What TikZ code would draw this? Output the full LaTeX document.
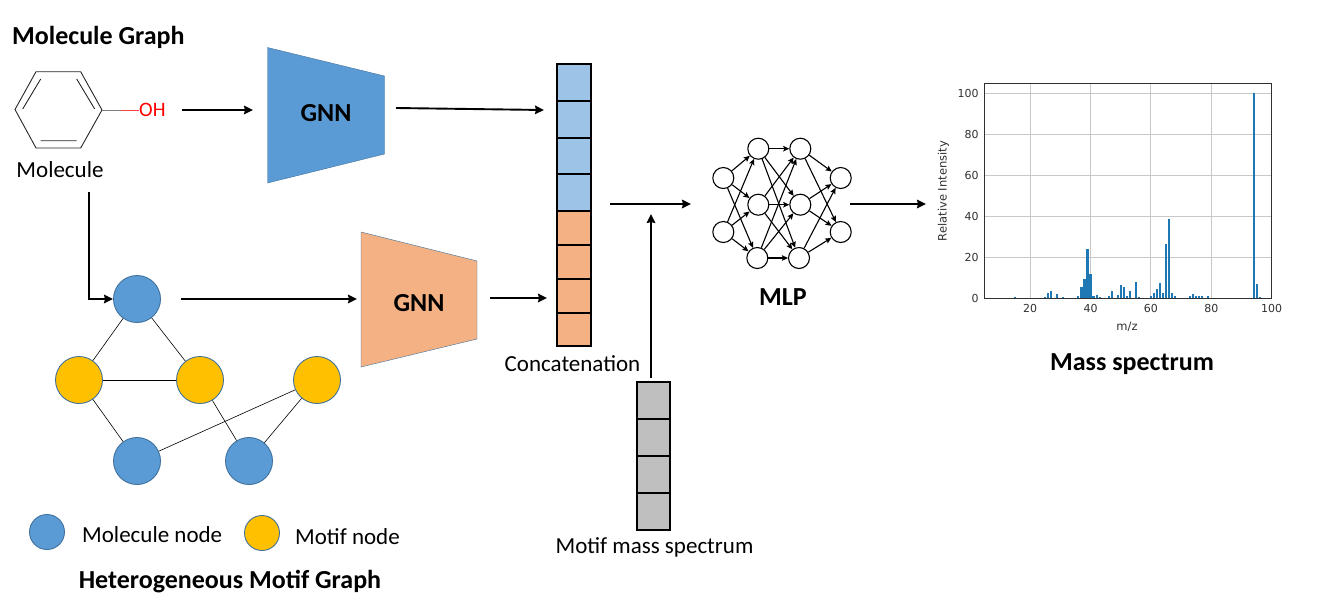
\documentclass[tikz,border=0pt]{standalone}
\usepackage{fontspec}
\setmainfont{Carlito}
\newfontfamily\plotfont{DejaVu Sans}
\usetikzlibrary{arrows.meta}
\definecolor{molblue}{HTML}{5B9BD5}
\definecolor{motifyellow}{HTML}{FFC000}
\definecolor{edgeblue}{HTML}{41719C}
\definecolor{gnnorange}{HTML}{F4B183}
\definecolor{cellblue}{HTML}{9DC3E6}
\definecolor{cellgray}{HTML}{BFBFBF}
\definecolor{barblue}{HTML}{1F77B4}
\definecolor{plotgrid}{HTML}{C8C8C8}
\definecolor{plottext}{HTML}{303030}

\begin{document}
\begin{tikzpicture}[
            x = 1pt,
            y = -1pt,
            > = {Stealth[length = 6pt, width = 5.5pt, inset = 1pt]}, % arrow head style
            every node/.style = {font = \fontsize{23}{27}\selectfont, text = black},
            flow/.style = {-{Stealth[length = 9pt, width = 8.5pt, inset = 1pt]}, line width = 1.9pt},
            title/.style = {font = \fontsize{26}{30}\selectfont\bfseries},
            molecule/.style = {circle, draw = edgeblue, fill = molblue, line width = 0.9pt, minimum size = 47pt, inner sep = 0pt},
            motif/.style = {molecule, fill = motifyellow},
            neuron/.style = {circle, draw, fill = white, line width = 1.1pt, minimum size = 21pt, inner sep = 0pt},
            tick/.style = {font = \plotfont\fontsize{11}{13}\selectfont, text = plottext, inner sep = 0pt},
            axislabel/.style = {font = \plotfont\fontsize{11.5}{13}\selectfont, text = plottext, inner sep = 0pt}
        ]
        \useasboundingbox (0,0) rectangle (1329,614);

	% molecule
        \node[title, anchor = west, inner sep = 0pt] (molgraph) at (12,37) {Molecule Graph};
        \coordinate (a) at (15,109.5);
        \coordinate (b) at (36,71.7);
        \coordinate (c) at (80.7,71.7);
        \coordinate (d) at (102,110);
        \coordinate (e) at (80.7,148);
        \coordinate (f) at (36,148);
        \draw[line width = 0.9pt, black!85] (a) -- (b) -- (c) -- (d) -- (e) -- (f) -- cycle;
        \draw[line width = 0.9pt, black!85] (40.7,79) -- (22.7,109) (76.7,79) -- (94.7,109) (40.7,140.7) -- (76.7,140.7);
        \node[text = red, anchor = west, inner sep = 0pt, font = \fontsize{20.5}{24}\selectfont] (oh) at (139,110) {OH};
        \coordinate (bond) at (120.5,110);
        \draw[line width = 0.9pt, gray] (d) -- (bond);
        \draw[line width = 0.9pt, red!75] (bond) -- (oh);
        \node (mol) at (60,170) {Molecule};

	% top gnn
        \draw[draw = edgeblue, fill = molblue] (267.5,47.5) -- (384.5,76) -- (384.5,154) -- (267.5,183) -- cycle;
        \node[title] (gnntop) at (326,113) {GNN};

	% lower gnn
        \draw[draw = edgeblue, fill = gnnorange] (361,232) -- (477,261) -- (477,339) -- (361,367) -- cycle;
        \node[title] (gnnlow) at (419,303) {GNN};

	% concatenation bar
        \foreach \top/\bot/\col in {64/101/cellblue, 101/138/cellblue, 138/174/cellblue, 174/211/cellblue,
                211/245/gnnorange, 245/279/gnnorange, 279/313/gnnorange, 313/346/gnnorange}
            \draw[fill = \col, line width = 1.1pt] (557,\top) rectangle (591,\bot);
        \node (concat) at (572.5,364) {Concatenation};

	% motif spectrum bar
        \foreach \top/\bot in {382/419, 419/456, 456/493, 493/530}
            \draw[fill = cellgray, line width = 1.1pt] (637,\top) rectangle (670,\bot);
        \node (motifspec) at (654.5,547) {Motif mass spectrum};

	% motif graph
        \node[molecule] (M1) at (137,299) {};
        \node[motif] (T1) at (79,380) {};
        \node[motif] (T2) at (200,380) {};
        \node[motif] (T3) at (317,380) {};
        \node[molecule] (M2) at (137,461) {};
        \node[molecule] (M3) at (249,461) {};
        \foreach \u/\v in {M1/T1, M1/T2, T1/T2, T1/M2, T2/M3, T3/M2, T3/M3}
            \draw[line width = 0.6pt] (\u) -- (\v);

	% legend
        \node[molecule, minimum size = 35pt] (Lmol) at (47,532) {};
        \node[right, inner sep = 0pt] (Lmoltext) at (82,535) {Molecule node};
        \node[motif, minimum size = 35pt] (Lmotif) at (262,533) {};
        \node[right, inner sep = 0pt] (Lmotiftext) at (295,537) {Motif node};
        \node[title] (hetero) at (230,582) {Heterogeneous Motif Graph};

	% mlp
        \node[neuron] (A1) at (723.3,178) {};
        \node[neuron] (A2) at (723.3,232) {};
        \node[neuron] (B1) at (758.3,148.7) {};
        \node[neuron] (B2) at (758.3,204.7) {};
        \node[neuron] (B3) at (757.3,258) {};
        \node[neuron] (C1) at (800.3,148.7) {};
        \node[neuron] (C2) at (800.3,204.7) {};
        \node[neuron] (C3) at (799,258) {};
        \node[neuron] (D1) at (840.7,178) {};
        \node[neuron] (D2) at (840.7,232) {};
        \foreach \u in {A1,A2}
            \foreach \v in {B1,B2,B3}
                \path[->, line width = 1.1pt] (\u) edge (\v);
        \foreach \u in {B1,B2,B3}
            \foreach \v in {C1,C2,C3}
                \path[->, line width = 1.1pt] (\u) edge (\v);
        \foreach \u in {C1,C2,C3}
            \foreach \v in {D1,D2}
                \path[->, line width = 1.1pt] (\u) edge (\v);
        \node[title] (mlp) at (783,297) {MLP};

	% arrows
        \coordinate (p1) at (182,110);
        \coordinate (p2) at (253,110);
        \coordinate (p3) at (396,108);
        \coordinate (p4) at (544,110);
        \coordinate (p5) at (89,192);
        \coordinate (p6) at (181,299);
        \coordinate (p7) at (357,299);
        \coordinate (p8) at (490,298);
        \coordinate (p9) at (547,298);
        \coordinate (p10) at (610,204);
        \coordinate (p11) at (691,204);
        \coordinate (p12) at (651,378);
        \coordinate (p13) at (651,214);
        \coordinate (p14) at (850,204);
        \coordinate (p15) at (926,204);
        \draw[flow] (p1) -- (p2);
        \draw[flow] (p3) -- (p4);
        \draw[flow] (p5) |- (M1);
        \draw[flow] (p6) -- (p7);
        \draw[flow] (p8) -- (p9);
        \draw[flow] (p10) -- (p11);
        \draw[flow] (p12) -- (p13);
        \draw[flow] (p14) -- (p15);

	% spectrum plot
        \begin{scope}[shift = {(969.7,298.3)}, x = 3.02pt, y = 2.05pt]
            \foreach \t in {20,40,60,80}
                \draw[plotgrid, line width = 0.9pt] (\t,0) -- (\t,105);
            \foreach \t in {20,40,60,80,100}
                \draw[plotgrid, line width = 0.9pt] (5,\t) -- (100,\t);
            \foreach \m/\h in {15/0.5, 25/0.5, 26/2.8, 27/3.5, 29/2.2, 31/0.5, 36/1, 37/5.3, 38/9.5, 39/24, 40/11.8,
                    41/1, 42/1.5, 43/0.5, 46/1, 47/3.6, 49/1.5, 50/6.3, 51/5.5, 52/1, 53/3.5, 55/8, 56/0.5, 60/1,
                    61/2.7, 62/4.6, 63/7.3, 64/2.7, 65/26.5, 66/38.5, 67/2.7, 68/1, 73/1, 74/2.2, 75/1, 76/1, 77/1,
                    79/1, 94/100, 95/7, 96/0.5}
                \fill[barblue] (\m-0.35,0) rectangle (\m+0.35,\h);
            \draw[plottext, line width = 1pt] (5,0) rectangle (100,105);
            \foreach \t in {20,40,60,80,100}
                \node[tick, below = 6pt] (xt\t) at (\t,0) {\t};
            \foreach \t in {0,20,40,60,80,100}
                \node[tick, left = 6pt] (yt\t) at (5,\t) {\t};
        \end{scope}
        \node[axislabel, rotate = 90] (ylab) at (943.5,191) {Relative Intensity};
        \node[axislabel] (xlab) at (1127,327) {m/z};
        \node[title] (massspec) at (1132,364) {Mass spectrum};

\end{tikzpicture}
\end{document}
